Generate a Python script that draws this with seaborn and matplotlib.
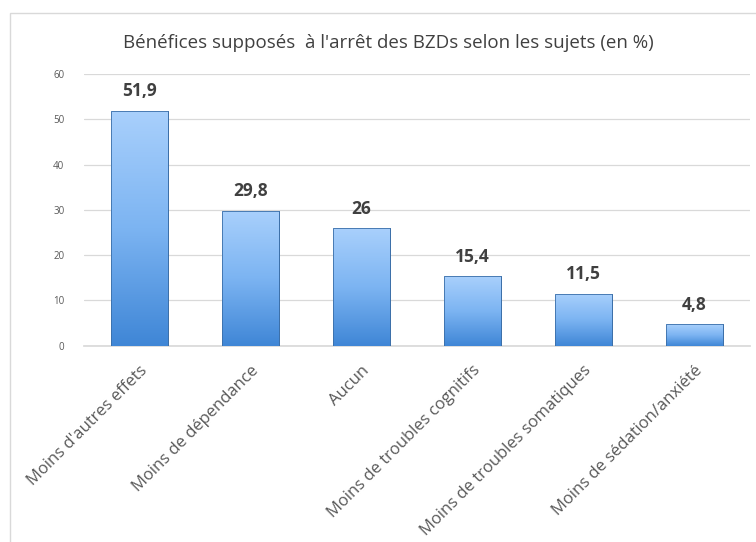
import matplotlib
matplotlib.use("Agg")
import matplotlib.pyplot as plt
import numpy as np
import pandas as pd
import seaborn as sns
from matplotlib.colors import LinearSegmentedColormap
from matplotlib.patches import Rectangle

categories = [
    "Moins d'autres effets",
    "Moins de dépendance",
    "Aucun",
    "Moins de troubles cognitifs",
    "Moins de troubles somatiques",
    "Moins de sédation/anxiété",
]
values = [51.9, 29.8, 26, 15.4, 11.5, 4.8]
value_labels = ["51,9", "29,8", "26", "15,4", "11,5", "4,8"]
title = "Bénéfices supposés  à l'arrêt des BZDs selon les sujets (en %)"

df = pd.DataFrame({"cat": categories, "val": values})

sns.set_theme(style="white")
plt.rcParams["font.family"] = ["Open Sans", "DejaVu Sans"]

fig = plt.figure(figsize=(7.56, 5.42), dpi=100)
ax = fig.add_axes([0.111, 0.362, 0.881, 0.5015])

# outer chart frame
fig.patches.append(Rectangle((10 / 756, -0.1), 1.2, 0.1 + (542 - 13) / 542,
                             transform=fig.transFigure, fill=False,
                             edgecolor="#d9d9d9", lw=1.0))

sns.barplot(data=df, x="cat", y="val", color="#6fa8ee", width=0.51, ax=ax,
            edgecolor="#3a6ea8", linewidth=0.6, zorder=3)

# vertical gradient fill on each bar
cmap = LinearSegmentedColormap.from_list("blu", ["#3f86d6", "#7cb4f2", "#a9d0fc"])
grad = np.linspace(0, 1, 256).reshape(-1, 1)
for p in list(ax.patches):
    x0, y0 = p.get_x(), p.get_y()
    w, h = p.get_width(), p.get_height()
    im = ax.imshow(grad, cmap=cmap, origin="lower", aspect="auto",
                   extent=[x0, x0 + w, y0, y0 + h], zorder=3.5)
    im.set_clip_path(p)
    ax.add_patch(Rectangle((x0, y0), w, h, fill=False, edgecolor="#3a6ea8",
                           lw=0.6, zorder=4))

for i, (v, lab) in enumerate(zip(values, value_labels)):
    ax.text(i, v + 2.3, lab, ha="center", va="bottom", fontsize=12.5,
            fontweight="bold", color="#404040")

ax.set_xlim(-0.5, len(categories) - 0.5)
ax.set_ylim(0, 60)
ax.set_yticks(range(0, 61, 10))
ax.yaxis.grid(True, color="#d9d9d9", lw=0.9, zorder=0)
ax.set_axisbelow(True)
for s in ["top", "right", "left"]:
    ax.spines[s].set_visible(False)
ax.spines["bottom"].set_color("#d9d9d9")
ax.tick_params(axis="y", length=0, labelsize=7, labelcolor="#595959", pad=14)
ax.tick_params(axis="x", length=0, labelsize=12, labelcolor="#595959", pad=12)
ax.set_xticks(range(len(categories)))
ax.set_xticklabels(categories, rotation=45, ha="right", rotation_mode="anchor")
ax.set_xlabel("")
ax.set_ylabel("")

fig.text(388 / 756, 1 - 43 / 542, title, ha="center", va="center",
         fontsize=13.5, color="#404040")

fig.savefig("out.png", dpi=100)
